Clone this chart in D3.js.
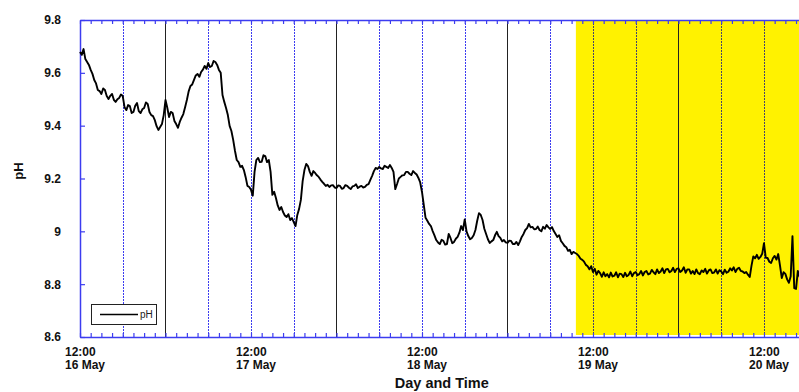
<!DOCTYPE html>
<html>
<head>
<meta charset="utf-8">
<script src="https://cdn.jsdelivr.net/npm/d3@7"></script>
<style>
  html, body { margin: 0; padding: 0; background: #fff; }
  svg { display: block; }
  text { font-family: "Liberation Sans", Arial, sans-serif; }
</style>
</head>
<body>
<svg id="chart" width="799" height="392"></svg>
<script>
// pH logger record, one reading every 15 minutes from 16 May 12:00
const startTime = new Date(2000, 4, 16, 12, 0);
const endTime = new Date(2000, 4, 20, 17, 0);
const stepMinutes = 15;
const phValues = [
  9.679, 9.668, 9.690, 9.652, 9.641, 9.630, 9.611, 9.596, 9.573, 9.560,
  9.535, 9.531, 9.520, 9.541, 9.535, 9.512, 9.501, 9.513, 9.520, 9.498,
  9.490, 9.500, 9.505, 9.518, 9.512, 9.470, 9.459, 9.478, 9.474, 9.448,
  9.452, 9.475, 9.486, 9.455, 9.448, 9.462, 9.467, 9.488, 9.482, 9.452,
  9.440, 9.436, 9.421, 9.398, 9.384, 9.395, 9.406, 9.440, 9.497, 9.468,
  9.433, 9.452, 9.448, 9.418, 9.406, 9.392, 9.414, 9.430, 9.444, 9.470,
  9.497, 9.530, 9.550, 9.556, 9.573, 9.590, 9.596, 9.585, 9.603, 9.612,
  9.626, 9.615, 9.637, 9.622, 9.626, 9.645, 9.641, 9.630, 9.611, 9.600,
  9.516, 9.490, 9.467, 9.440, 9.399, 9.380, 9.346, 9.305, 9.270, 9.262,
  9.244, 9.248, 9.232, 9.205, 9.172, 9.168, 9.157, 9.135, 9.225, 9.270,
  9.278, 9.262, 9.263, 9.288, 9.285, 9.262, 9.270, 9.225, 9.138, 9.150,
  9.126, 9.098, 9.081, 9.092, 9.073, 9.060, 9.054, 9.065, 9.043, 9.050,
  9.035, 9.020, 9.062, 9.085, 9.119, 9.190, 9.232, 9.255, 9.247, 9.225,
  9.210, 9.228, 9.221, 9.212, 9.206, 9.196, 9.187, 9.180, 9.172, 9.176,
  9.168, 9.174, 9.175, 9.166, 9.164, 9.174, 9.172, 9.161, 9.164, 9.175,
  9.172, 9.165, 9.160, 9.170, 9.172, 9.178, 9.164, 9.169, 9.172, 9.166,
  9.168, 9.176, 9.179, 9.195, 9.210, 9.228, 9.240, 9.236, 9.244, 9.238,
  9.236, 9.248, 9.244, 9.240, 9.251, 9.240, 9.225, 9.160, 9.179, 9.200,
  9.206, 9.212, 9.213, 9.225, 9.225, 9.218, 9.213, 9.228, 9.221, 9.215,
  9.202, 9.185, 9.149, 9.100, 9.051, 9.040, 9.028, 9.020, 9.001, 8.985,
  8.967, 8.958, 8.952, 8.968, 8.964, 8.950, 8.952, 8.990, 8.975, 8.955,
  8.960, 8.972, 8.979, 8.995, 9.020, 9.005, 9.045, 9.000, 8.982, 8.970,
  8.975, 8.985, 9.005, 9.040, 9.069, 9.062, 9.043, 9.010, 8.990, 8.970,
  8.956, 8.962, 8.967, 8.985, 8.998, 8.982, 8.975, 8.962, 8.967, 8.958,
  8.956, 8.965, 8.964, 8.952, 8.952, 8.960, 8.948, 8.962, 8.979, 8.990,
  9.005, 9.012, 9.028, 9.015, 9.017, 9.008, 9.009, 9.018, 9.005, 9.000,
  9.017, 9.010, 9.024, 9.015, 9.009, 9.016, 9.001, 8.990, 8.979, 8.985,
  8.964, 8.955, 8.945, 8.940, 8.926, 8.930, 8.914, 8.922, 8.918, 8.914,
  8.907, 8.896, 8.892, 8.885, 8.873, 8.868, 8.856, 8.868, 8.846, 8.858,
  8.836, 8.850, 8.842, 8.828, 8.845, 8.830, 8.838, 8.826, 8.844, 8.829,
  8.832, 8.845, 8.826, 8.840, 8.838, 8.827, 8.843, 8.830, 8.835, 8.848,
  8.830, 8.842, 8.846, 8.834, 8.838, 8.850, 8.833, 8.846, 8.850, 8.837,
  8.840, 8.854, 8.845, 8.838, 8.856, 8.842, 8.848, 8.860, 8.842, 8.856,
  8.858, 8.845, 8.850, 8.862, 8.846, 8.858, 8.860, 8.846, 8.852, 8.864,
  8.843, 8.856, 8.856, 8.840, 8.850, 8.838, 8.856, 8.842, 8.838, 8.852,
  8.846, 8.858, 8.840, 8.852, 8.856, 8.842, 8.844, 8.856, 8.840, 8.853,
  8.848, 8.838, 8.855, 8.843, 8.847, 8.860, 8.852, 8.864, 8.846, 8.858,
  8.862, 8.850, 8.848, 8.842, 8.846, 8.836, 8.827, 8.870, 8.905, 8.898,
  8.911, 8.896, 8.903, 8.915, 8.955, 8.900, 8.899, 8.885, 8.880, 8.898,
  8.907, 8.893, 8.914, 8.870, 8.823, 8.845, 8.839, 8.818, 8.805, 8.830,
  8.982, 8.785, 8.782, 8.850, 8.827
];
const shadedFrom = new Date(2000, 4, 19, 9, 36);
const labelDates = [
  new Date(2000, 4, 16, 12), new Date(2000, 4, 17, 12), new Date(2000, 4, 18, 12),
  new Date(2000, 4, 19, 12), new Date(2000, 4, 20, 12)
];
const hourLabel = "12:00";
const dayLabels = ["16 May", "17 May", "18 May", "19 May", "20 May"];
const yTicks = [8.6, 8.8, 9, 9.2, 9.4, 9.6, 9.8];
const seriesName = "pH";
const xTitle = "Day and Time";
const yTitle = "pH";

const axisBlue = "#3c3cf0";
const shadeYellow = "#fff200";

const svg = d3.select("#chart");
const W = 799, H = 392;
const plotL = 80, plotT = 20, plotR = 799.6, plotB = 337;

const x = d3.scaleTime().domain([startTime, endTime]).range([plotL, plotR]);
const y = d3.scaleLinear().domain([8.6, 9.8]).range([plotB, plotT]);

const series = phValues.map((v, i) => ({
  t: new Date(startTime.getTime() + i * stepMinutes * 60000),
  v
}));

const hourMs = 3600000;
const sixHour = d3.range(6, 101, 6).map(h => new Date(startTime.getTime() + h * hourMs));
const minorTicks = d3.range(0, 101.01, 1.5).map(h => new Date(startTime.getTime() + h * hourMs));

svg.append("rect").attr("width", W).attr("height", H).attr("fill", "#fff");

// shaded period
svg.append("rect")
  .attr("x", x(shadedFrom))
  .attr("y", plotT)
  .attr("width", plotR - x(shadedFrom))
  .attr("height", plotB - plotT - 2)
  .attr("fill", shadeYellow);

// vertical grid: midnight solid black, other 6-hour marks dotted blue
svg.append("g").selectAll("line")
  .data(sixHour)
  .join("line")
  .attr("x1", d => Math.round(x(d)) + 0.5)
  .attr("x2", d => Math.round(x(d)) + 0.5)
  .attr("y1", plotT)
  .attr("y2", plotB)
  .attr("stroke", d => d.getHours() === 0 ? "#222" : (x(d) > x(shadedFrom) ? "#44446a" : axisBlue))
  .attr("stroke-width", 1)
  .attr("stroke-dasharray", d => d.getHours() === 0 ? null : "2,1");

// frame axes with inward minor ticks
const bottomAxis = svg.append("g")
  .attr("transform", `translate(0,${plotB})`)
  .call(d3.axisBottom(x).tickValues(minorTicks).tickSize(-4).tickSizeOuter(0).tickFormat(""));
const topAxis = svg.append("g")
  .attr("transform", `translate(0,${plotT})`)
  .call(d3.axisTop(x).tickValues(minorTicks).tickSize(-4).tickSizeOuter(0).tickFormat(""));
const leftAxis = svg.append("g")
  .attr("transform", `translate(${plotL},0)`)
  .call(d3.axisLeft(y).tickValues(yTicks).tickSize(-5).tickSizeOuter(0)
    .tickPadding(19).tickFormat(d3.format("")));

[bottomAxis, topAxis, leftAxis].forEach(g => {
  g.select(".domain").attr("stroke", axisBlue).attr("stroke-width", 1.5);
  g.selectAll(".tick line").attr("stroke", axisBlue).attr("stroke-width", 1.2);
});
leftAxis.selectAll(".tick text")
  .attr("font-size", 12).attr("font-weight", "bold").attr("fill", "#111")
  .attr("font-family", "Liberation Sans, Arial, sans-serif");

// two-line date labels
const labelAxis = svg.append("g")
  .attr("transform", `translate(0,${plotB})`)
  .call(d3.axisBottom(x).tickValues(labelDates).tickSize(0).tickFormat(""));
labelAxis.select(".domain").remove();
labelAxis.selectAll(".tick").each(function(d, i) {
  const t = d3.select(this).select("text")
    .attr("text-anchor", "start")
    .attr("y", 0).attr("dy", null)
    .attr("font-size", 12).attr("font-weight", "bold").attr("fill", "#111")
    .attr("font-family", "Liberation Sans, Arial, sans-serif");
  t.append("tspan").attr("x", -15.5).attr("y", 19).text(hourLabel);
  t.append("tspan").attr("x", -15.5).attr("y", 32).text(dayLabels[i]);
});

// pH trace
const line = d3.line().x(d => x(d.t)).y(d => y(d.v));
svg.append("path")
  .datum(series)
  .attr("d", line)
  .attr("fill", "none")
  .attr("stroke", "#000")
  .attr("stroke-width", 1.9)
  .attr("stroke-linejoin", "round");

// legend
const lg = svg.append("g").attr("transform", "translate(91,304)");
lg.append("rect").attr("x", 0.5).attr("y", 0.5).attr("width", 65).attr("height", 20)
  .attr("fill", "#fff").attr("stroke", "#222").attr("stroke-width", 1);
lg.append("line").attr("x1", 9).attr("x2", 47).attr("y1", 10.5).attr("y2", 10.5)
  .attr("stroke", "#000").attr("stroke-width", 1.6);
lg.append("text").attr("x", 49).attr("y", 14).attr("font-size", 10).attr("fill", "#222")
  .text(seriesName);

// axis titles
svg.append("text")
  .attr("x", (plotL + plotR) / 2 + 2).attr("y", 388)
  .attr("text-anchor", "middle").attr("font-size", 14.5).attr("font-weight", "bold")
  .attr("fill", "#111").text(xTitle);
svg.append("text")
  .attr("transform", "translate(23,171) rotate(-90)")
  .attr("text-anchor", "middle").attr("font-size", 13).attr("font-weight", "bold")
  .attr("fill", "#111").text(yTitle);
</script>
</body>
</html>
